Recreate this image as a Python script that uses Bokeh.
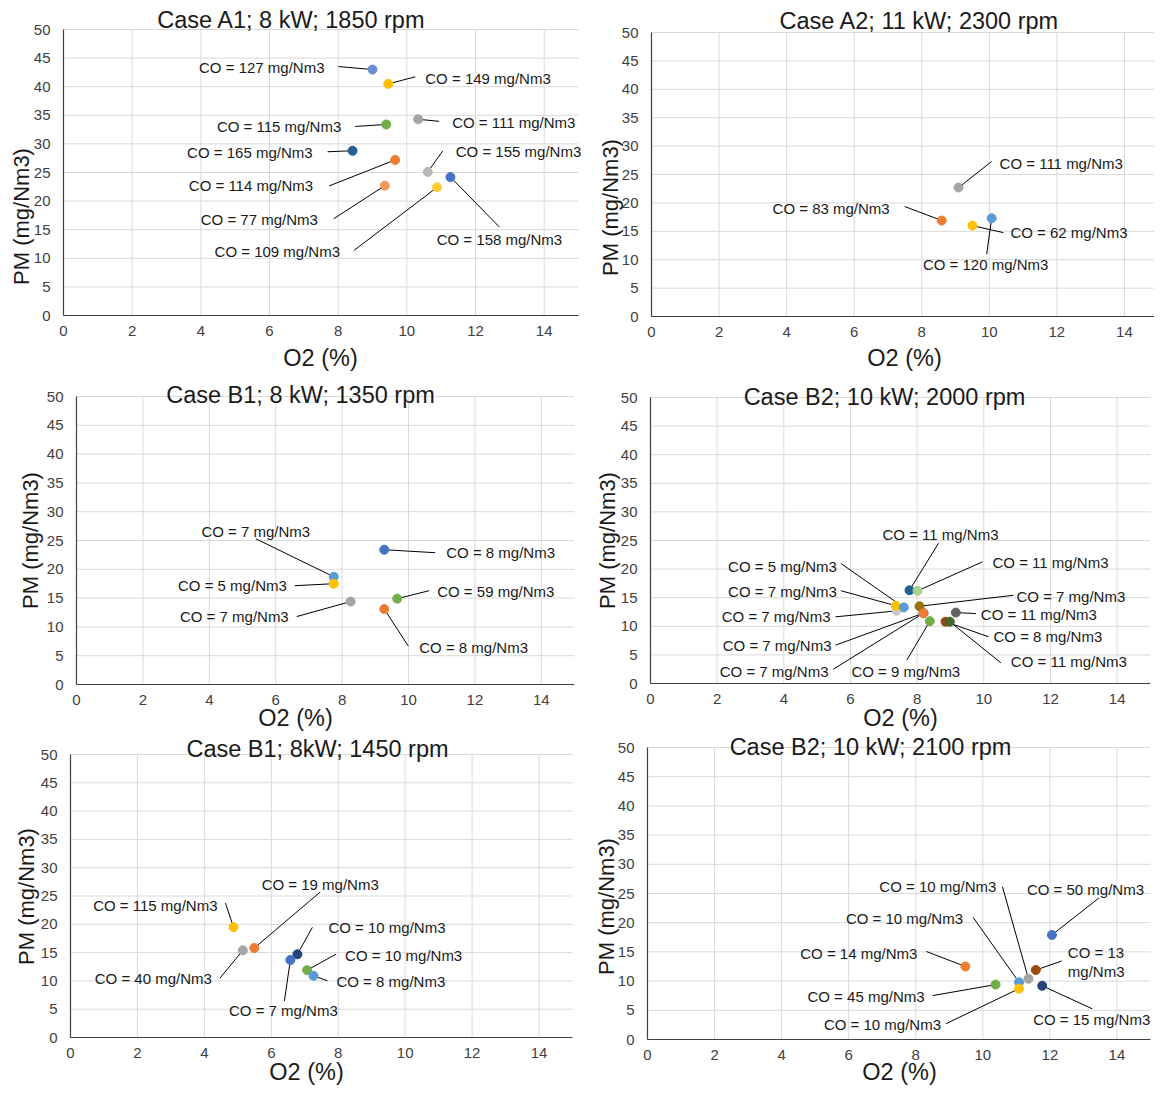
import math
from bokeh.plotting import figure
from bokeh.models import ColumnDataSource, LabelSet, Label, Range1d, FixedTicker
from bokeh.layouts import gridplot
from bokeh.embed import file_html
from bokeh.resources import INLINE
from bokeh.core.properties import value

# ---------------- data ----------------
x_ticks = [0, 2, 4, 6, 8, 10, 12, 14]
y_ticks = [0, 5, 10, 15, 20, 25, 30, 35, 40, 45, 50]

title_A1 = "Case A1; 8 kW; 1850 rpm"
o2_A1 = [9.00, 9.46, 10.33, 9.40, 8.42, 9.66, 10.61, 11.27, 9.36, 10.88]
pm_A1 = [43.0, 40.5, 34.3, 33.4, 28.8, 27.2, 25.1, 24.2, 22.7, 22.4]
co_A1 = [127, 149, 111, 115, 165, 114, 155, 158, 77, 109]
col_A1 = ["#698ED0", "#FFC000", "#A5A5A5", "#70AD47", "#255E91", "#ED7D31",
          "#B7B7B7", "#4472C4", "#F1975A", "#FFCD33"]

title_A2 = "Case A2; 11 kW; 2300 rpm"
o2_A2 = [9.09, 8.59, 9.50, 10.07]
pm_A2 = [22.7, 16.9, 16.0, 17.3]
co_A2 = [111, 83, 62, 120]
col_A2 = ["#A5A5A5", "#ED7D31", "#FFC000", "#5B9BD5"]

title_B1 = "Case B1; 8 kW; 1350 rpm"
o2_B1 = [9.27, 7.75, 7.75, 8.26, 9.66, 9.27]
pm_B1 = [23.4, 18.7, 17.5, 14.4, 14.9, 13.1]
co_B1 = [8, 7, 5, 7, 59, 8]
col_B1 = ["#4472C4", "#5B9BD5", "#FFC000", "#A5A5A5", "#70AD47", "#ED7D31"]

title_B2 = "Case B2; 10 kW; 2000 rpm"
o2_B2 = [7.38, 7.36, 7.60, 7.77, 8.01, 8.07, 8.19, 8.19, 8.38, 8.85, 8.98, 9.16]
pm_B2 = [12.7, 13.6, 13.3, 16.3, 16.2, 13.5, 12.3, 12.3, 10.9, 10.8, 10.8, 12.4]
co_B2 = [7, 7, 5, 11, 11, 7, 7, 7, 9, 8, 11, 11]
col_B2 = ["#C9C9C9", "#FFC000", "#5B9BD5", "#255E91", "#A9D18E", "#997300",
          "#4472C4", "#ED7D31", "#70AD47", "#9E480E", "#43682B", "#636363"]

title_B1b = "Case B1; 8kW; 1450 rpm"
o2_B1b = [4.87, 5.15, 5.49, 6.78, 6.57, 7.07, 7.26]
pm_B1b = [19.5, 15.4, 15.8, 14.7, 13.7, 11.9, 10.9]
co_B1b = [115, 40, 19, 10, 7, 10, 8]
col_B1b = ["#FFC000", "#A5A5A5", "#ED7D31", "#264478", "#4472C4", "#70AD47", "#5B9BD5"]

title_B2b = "Case B2; 10 kW; 2100 rpm"
o2_B2b = [12.06, 9.48, 11.58, 11.36, 11.08, 11.08, 10.38, 11.77]
pm_B2b = [17.9, 12.5, 11.9, 10.4, 9.8, 8.7, 9.4, 9.2]
co_B2b = [50, 14, 13, 10, 10, 10, 45, 15]
col_B2b = ["#4472C4", "#ED7D31", "#9E480E", "#A5A5A5", "#5B9BD5", "#FFC000", "#70AD47", "#264478"]

x_label = "O2 (%)"
y_label = "PM (mg/Nm3)"

# ---------------- layout (pixel offsets, styles) ----------------
# per label: (label dx, label dy, align, leader dx, leader dy) in screen px, y down
lay_A1 = [(-48, -2, "right", -34, -3), (37, -5, "left", 27, -7), (34, 3, "left", 21, 2),
          (-45, 2, "right", -31, 2), (-40, 2, "right", -25, 1), (-82, 26, "right", -66, 26),
          (28, -20, "left", 15, -21), (49, 62, "center", 49, 50), (-67, 34, "right", -51, 33),
          (-97, 64, "right", -83, 63)]
lay_A2 = [(41, -24, "left", 33, -26), (-52, -12, "right", -37, -14),
          (38, 7, "left", 31, 7), (-6, 46, "center", -5, 36)]
lay_B1 = [(62, 3, "left", 51, 3), (-78, -45, "center", -78, -38), (-47, 2, "right", -39, 2),
          (-62, 15, "right", -54, 15), (40, -7, "left", 32, -8), (35, 38, "left", 24, 37)]
lay_B2 = [(-66, 6, "right", -61, 6), (-59, -14, "right", -55, -15), (-67, -41, "right", -63, -44),
          (31, -56, "center", 29, -47), (75, -28, "left", 65, -29), (97, -10, "left", 94, -11),
          (-95, 58, "right", -90, 56), (-92, 32, "right", -88, 32), (-24, 50, "center", -23, 39),
          (48, 15, "left", 43, 15), (61, 40, "left", 51, 41), (25, 2, "left", 20, 1)]
lay_B1b = [(-16, -22, "right", -8, -24), (-31, 28, "right", -23, 28), (66, -64, "center", 66, -56),
           (31, -27, "left", 15, -27), (-7, 51, "center", -6, 41), (38, -15, "left", 29, -16),
           (23, 6, "left", 14, 5)]
lay_B2b = [(-25, -45, "left", 47, -37), (-48, -13, "right", -39, -15), (32, -8, "left", 26, -9),
           (-32, -92, "right", -26, -92), (-56, -64, "right", -46, -65), (-78, 36, "right", -73, 35),
           (-71, 12, "right", -63, 11), (-9, 34, "left", 50, 23)]

# geometry: left margin, plot w, right margin, top margin, plot h, bottom margin, x max
geo_A1 = (63, 515, 12, 29, 286, 59, 15)
geo_A2 = (61, 503, 0, 32, 284, 58, 14.89)
geo_B1 = (76, 498, 16, 22, 288, 49, 15)
geo_B2 = (60, 500, 4, 23, 286, 50, 15)
geo_B1b = (70, 502, 18, 21, 283, 48, 15)
geo_B2b = (57, 503, 4, 14, 292, 46, 15)

# text positions: title (dx from plot left, px above top), y-label (px left of plot, px above bottom),
# x-label (dx from plot left, px below bottom)
txt_A1 = ((228, 10), (42, 99), (257, 42))
txt_A2 = ((268, 12), (41, 109), (253, 41))
txt_B1 = ((224, 2), (46, 144), (219, 33))
txt_B2 = ((234, 1), (43, 143), (250, 34))
txt_B1b = ((247, 6), (44, 141), (236, 34))
txt_B2b = ((223, 1), (41, 133), (252, 32))

FONT = "Liberation Sans"
GRID = "#D9D9D9"
AXIS = "#404040"
TEXT = "#1a1a1a"


def make_panel(title, o2, pm, co, colors, lay, geo, tpos, two_line=()):
    L, FW, R, T, FH, B, xmax = geo
    sx = FW / xmax
    sy = FH / 50.0
    W = L + FW + R
    H = T + FH + B
    p = figure(width=W, height=H, frame_width=W, frame_height=H,
               min_border_left=0, min_border_right=0, min_border_top=0, min_border_bottom=0,
               x_range=Range1d(-L / sx, xmax + R / sx), y_range=Range1d(-B / sy, 50 + T / sy),
               output_backend="svg", toolbar_location=None, tools="")
    p.outline_line_color = None
    p.background_fill_color = "white"
    p.border_fill_color = "white"
    p.grid.visible = False

    # grid lines drawn from the tick lists, limited to the data area
    p.segment(x0=x_ticks, y0=[0] * len(x_ticks), x1=x_ticks, y1=[50] * len(x_ticks),
              line_color=GRID, line_width=1)
    p.segment(x0=[0] * len(y_ticks), y0=y_ticks, x1=[xmax] * len(y_ticks), y1=y_ticks,
              line_color=GRID, line_width=1)

    for ax in (p.xaxis[0], p.yaxis[0]):
        ax.fixed_location = 0
        ax.major_tick_in = 0
        ax.major_tick_out = 0
        ax.minor_tick_in = 0
        ax.minor_tick_out = 0
        ax.axis_line_color = AXIS
        ax.axis_line_width = 1.2
        ax.major_label_text_font = FONT
        ax.major_label_text_font_size = "15px"
        ax.major_label_text_color = AXIS
    p.xaxis[0].ticker = FixedTicker(ticks=x_ticks)
    p.yaxis[0].ticker = FixedTicker(ticks=y_ticks)
    p.xaxis[0].bounds = (0, xmax)
    p.yaxis[0].bounds = (0, 50)
    p.xaxis[0].major_label_standoff = 10
    p.yaxis[0].major_label_standoff = 13

    # leaders and labels
    x0, y0, x1, y1 = [], [], [], []
    groups = {}
    for i, (x, y, c) in enumerate(zip(o2, pm, co)):
        ldx, ldy, al, kdx, kdy = lay[i]
        x0.append(x)
        y0.append(y)
        x1.append(x + kdx / sx)
        y1.append(y - kdy / sy)
        txt = f"CO = {c} mg/Nm3"
        if i in two_line:
            txt = f"CO = {c}\nmg/Nm3"
        g = groups.setdefault(al, {"lx": [], "ly": [], "t": []})
        g["lx"].append(x + ldx / sx)
        g["ly"].append(y - ldy / sy)
        g["t"].append(txt)
    p.segment(x0=x0, y0=y0, x1=x1, y1=y1, line_color="#000000", line_width=1)
    p.scatter(x=o2, y=pm, size=9, fill_color=colors, line_color=colors)
    for al, g in groups.items():
        src = ColumnDataSource(g)
        p.add_layout(LabelSet(x="lx", y="ly", text="t", source=src, text_align=al,
                              text_baseline="middle", text_font=value(FONT),
                              text_font_size="15px", text_color=TEXT,
                              text_line_height=1.1))

    (tdx, tdy), (pdx, pdy), (odx, ody) = tpos
    p.add_layout(Label(x=tdx / sx, y=50 + tdy / sy, text=title, text_align="center",
                       text_baseline="middle", text_font=FONT, text_font_size="23.5px",
                       text_color=TEXT))
    p.add_layout(Label(x=-pdx / sx, y=pdy / sy, text=y_label, angle=math.pi / 2,
                       text_align="center", text_baseline="middle", text_font=FONT,
                       text_font_size="22px", text_color=TEXT))
    p.add_layout(Label(x=odx / sx, y=-ody / sy, text=x_label, text_align="center",
                       text_baseline="middle", text_font=FONT, text_font_size="23.5px",
                       text_color=TEXT))
    return p


p1 = make_panel(title_A1, o2_A1, pm_A1, co_A1, col_A1, lay_A1, geo_A1, txt_A1)
p2 = make_panel(title_A2, o2_A2, pm_A2, co_A2, col_A2, lay_A2, geo_A2, txt_A2)
p3 = make_panel(title_B1, o2_B1, pm_B1, co_B1, col_B1, lay_B1, geo_B1, txt_B1)
p4 = make_panel(title_B2, o2_B2, pm_B2, co_B2, col_B2, lay_B2, geo_B2, txt_B2)
p5 = make_panel(title_B1b, o2_B1b, pm_B1b, co_B1b, col_B1b, lay_B1b, geo_B1b, txt_B1b)
p6 = make_panel(title_B2b, o2_B2b, pm_B2b, co_B2b, col_B2b, lay_B2b, geo_B2b, txt_B2b,
                two_line=(2,))

grid = gridplot([[p1, p2], [p3, p4], [p5, p6]], toolbar_location=None)
open("out.html", "w").write(file_html(grid, INLINE))
